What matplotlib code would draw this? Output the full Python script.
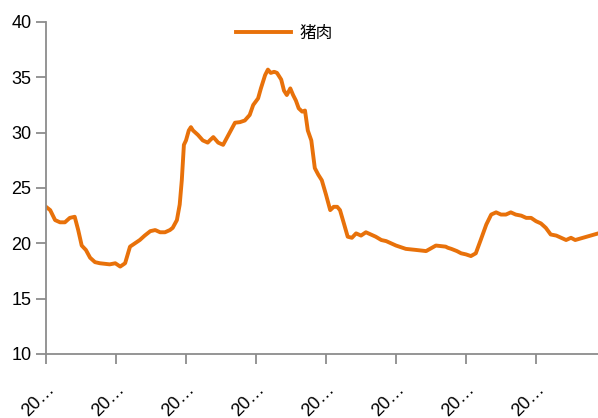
import numpy as np
import matplotlib.pyplot as plt

plt.rcParams['font.family'] = ['Liberation Sans', 'Noto Sans CJK SC', 'DejaVu Sans']

# time in years from the first tick, pork price
t = [0.00, 0.06, 0.13, 0.20, 0.27, 0.34, 0.41, 0.46, 0.51, 0.57, 0.63, 0.70,
     0.77, 0.91, 0.99, 1.06, 1.13, 1.20, 1.27, 1.34, 1.41, 1.49, 1.56, 1.63,
     1.70, 1.77, 1.81, 1.87, 1.91, 1.94, 1.97, 2.00, 2.04, 2.07, 2.10, 2.17,
     2.24, 2.31, 2.34, 2.39, 2.46, 2.53, 2.70, 2.77, 2.84, 2.91, 2.96, 3.03,
     3.07, 3.13, 3.17, 3.21, 3.26, 3.30, 3.36, 3.40, 3.44, 3.49, 3.53, 3.57,
     3.61, 3.66, 3.70, 3.74, 3.79, 3.84, 3.89, 3.94, 4.00, 4.06, 4.11, 4.16,
     4.20, 4.26, 4.31, 4.37, 4.43, 4.50, 4.57, 4.64, 4.71, 4.79, 4.86, 4.93,
     5.00, 5.14, 5.29, 5.43, 5.57, 5.71, 5.74, 5.79, 5.83, 5.87, 5.93, 6.00,
     6.07, 6.14, 6.21, 6.29, 6.36, 6.43, 6.50, 6.57, 6.64, 6.71, 6.79, 6.86,
     6.93, 7.00, 7.07, 7.14, 7.21, 7.29, 7.36, 7.43, 7.50, 7.56, 7.89]
price = [23.3, 23.0, 22.1, 21.9, 21.9, 22.3, 22.4, 21.2, 19.8, 19.4, 18.7, 18.3,
         18.2, 18.1, 18.2, 17.9, 18.2, 19.7, 20.0, 20.3, 20.7, 21.1, 21.2, 21.0,
         21.0, 21.2, 21.4, 22.1, 23.5, 25.7, 28.9, 29.3, 30.2, 30.5, 30.2, 29.8,
         29.3, 29.1, 29.3, 29.6, 29.1, 28.9, 30.9, 30.95, 31.1, 31.6, 32.5, 33.1,
         34.0, 35.2, 35.7, 35.4, 35.5, 35.4, 34.8, 33.8, 33.4, 34.0, 33.4, 32.9,
         32.2, 31.9, 32.0, 30.2, 29.3, 26.8, 26.2, 25.7, 24.4, 23.0, 23.3, 23.3,
         23.0, 21.7, 20.6, 20.5, 20.9, 20.7, 21.0, 20.8, 20.6, 20.3, 20.2, 20.0,
         19.8, 19.5, 19.4, 19.3, 19.8, 19.7, 19.6, 19.5, 19.4, 19.3, 19.1, 19.0,
         18.85, 19.1, 20.3, 21.7, 22.6, 22.8, 22.6, 22.6, 22.8, 22.6, 22.5, 22.3,
         22.3, 22.0, 21.8, 21.4, 20.8, 20.7, 20.5, 20.3, 20.5, 20.3, 20.9]
x_ticks = [0, 1, 2, 3, 4, 5, 6, 7]
x_labels = ['20…'] * 8
y_ticks = [10, 15, 20, 25, 30, 35, 40]

fig = plt.figure(figsize=(5.98, 4.18), dpi=100)
ax = fig.add_axes([46 / 598, 64 / 418, 552 / 598, 332 / 418])

ax.plot(t, price, color='#E8710A', lw=2.8, label='猪肉', solid_joinstyle='round')

ax.set_xlim(0, 552 / 70)
ax.set_ylim(10, 40)
ax.set_xticks(x_ticks)
ax.set_xticklabels(x_labels, rotation=45, ha='right', rotation_mode='anchor')
ax.set_yticks(y_ticks)

for s in ['top', 'right']:
    ax.spines[s].set_visible(False)
for s in ['left', 'bottom']:
    ax.spines[s].set_color('#8C8C8C')
    ax.spines[s].set_linewidth(1.3)
ax.tick_params(axis='both', colors='#8C8C8C', width=1.3, length=7, labelcolor='black', labelsize=13)
ax.tick_params(axis='x', pad=12)

leg = ax.legend(loc='center', bbox_to_anchor=((284 - 46) / 552, (354 - 33) / 332),
                frameon=False, prop={'family': ['Noto Sans CJK SC'], 'size': 12},
                handlelength=3.3, handletextpad=0.5)

fig.savefig('out.png', dpi=100)
